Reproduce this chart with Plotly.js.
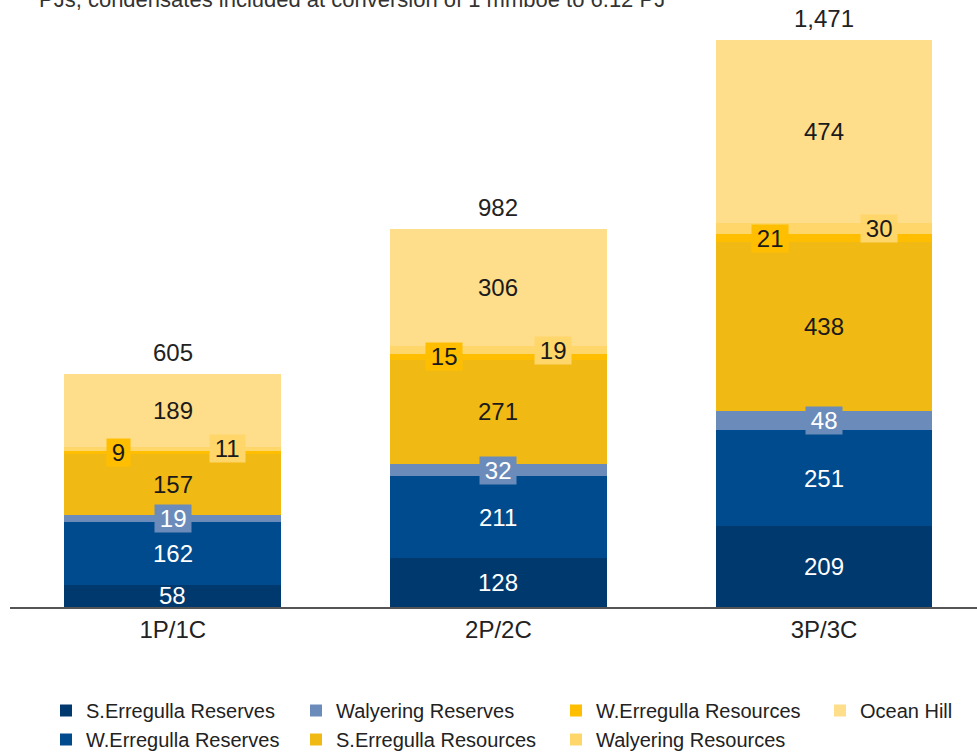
<!DOCTYPE html>
<html>
<head>
<meta charset="utf-8">
<script src="https://cdn.plot.ly/plotly-3.0.1.min.js"></script>
<style>html,body{margin:0;padding:0;background:#fff;}#chart{width:977px;height:753px;}</style>
</head>
<body>
<div id="chart"></div>
<script>
// ---- data ----
var categories = ["1P/1C", "2P/2C", "3P/3C"];
var seriesNames = ["S.Erregulla Reserves", "W.Erregulla Reserves", "Walyering Reserves",
                   "S.Erregulla Resources", "W.Erregulla Resources", "Walyering Resources", "Ocean Hill"];
var sErregullaReserves   = [58, 128, 209];
var wErregullaReserves   = [162, 211, 251];
var walyeringReserves    = [19, 32, 48];
var sErregullaResources  = [157, 271, 438];
var wErregullaResources  = [9, 15, 21];
var walyeringResources   = [11, 19, 30];
var oceanHill            = [189, 306, 474];
var subtitle = "PJs, condensates included at conversion of 1 mmboe to 6.12 PJ";

// ---- styles ----
var colors = ["#00396e", "#004b8d", "#6b8cba", "#f0b914", "#ffbf00", "#ffd66a", "#fedd8b"];
var textColors = ["#ffffff", "#ffffff", "#ffffff", "#1a1a1a", "#1a1a1a", "#1a1a1a", "#1a1a1a"];
var labelShift = [0, 0, 0, 0, -54, 55, 0];
var labelBoxed = [false, false, true, false, true, true, false];
var legendIds = ["legend", "legend", "legend2", "legend2", "legend3", "legend3", "legend4"];

var allSeries = [sErregullaReserves, wErregullaReserves, walyeringReserves,
                 sErregullaResources, wErregullaResources, walyeringResources, oceanHill];
var FONT = "Liberation Sans, Arial, sans-serif";

var traces = allSeries.map(function (vals, i) {
  return {
    type: "bar",
    name: seriesNames[i],
    x: categories,
    y: vals,
    marker: { color: colors[i], line: { width: 0 } },
    legend: legendIds[i],
    showlegend: true,
    hoverinfo: "skip"
  };
});

var annotations = [];
// segment labels
allSeries.forEach(function (vals, i) {
  categories.forEach(function (c, j) {
    var base = 0;
    for (var k = 0; k < i; k++) base += allSeries[k][j];
    annotations.push({
      x: c, y: base + vals[j] / 2, xref: "x", yref: "y",
      text: labelBoxed[i] ? "\u2009" + vals[j] + "\u2009" : String(vals[j]),
      showarrow: false,
      xshift: labelShift[i],
      font: { family: FONT, size: 24, color: textColors[i] },
      bgcolor: labelBoxed[i] ? colors[i] : "rgba(0,0,0,0)", borderpad: 0
    });
  });
});
// totals
categories.forEach(function (c, j) {
  var total = 0;
  allSeries.forEach(function (s) { total += s[j]; });
  annotations.push({
    x: c, y: total, xref: "x", yref: "y", yanchor: "bottom", yshift: 6,
    text: total.toLocaleString("en-US"), showarrow: false,
    font: { family: FONT, size: 24, color: "#222" }
  });
});
// subtitle (cut off at the top edge, as in the reference)
annotations.push({
  x: 27 / 967, y: 1 + 31 / 577, xref: "paper", yref: "paper",
  xanchor: "left", yanchor: "middle", showarrow: false,
  text: subtitle, font: { family: FONT, size: 22, color: "#333" }
});

function legendAt(px) {
  return {
    xref: "container", yref: "container",
    x: px / 977, y: 1 - 691 / 753, xanchor: "left", yanchor: "top",
    orientation: "v", traceorder: "normal",
    font: { family: FONT, size: 20, color: "#222" },
    bgcolor: "rgba(0,0,0,0)", borderwidth: 0
  };
}

var layout = {
  width: 977, height: 753,
  margin: { l: 10, r: 0, t: 30, b: 146, autoexpand: false },
  paper_bgcolor: "#fff", plot_bgcolor: "#fff",
  barmode: "stack", bargap: 0.334,
  font: { family: FONT, color: "#222" },
  xaxis: {
    type: "category", range: [-0.5, 2.47],
    showline: true, linecolor: "#555", linewidth: 2,
    ticks: "", showgrid: false, zeroline: false,
    tickfont: { family: FONT, size: 24, color: "#222" }
  },
  yaxis: {
    range: [0, 1497], visible: false, showgrid: false, zeroline: false
  },
  showlegend: true,
  legend: legendAt(46),
  legend2: legendAt(296),
  legend3: legendAt(556),
  legend4: legendAt(820),
  annotations: annotations
};

Plotly.newPlot("chart", traces, layout, { displayModeBar: false, staticPlot: true });
</script>
</body>
</html>
